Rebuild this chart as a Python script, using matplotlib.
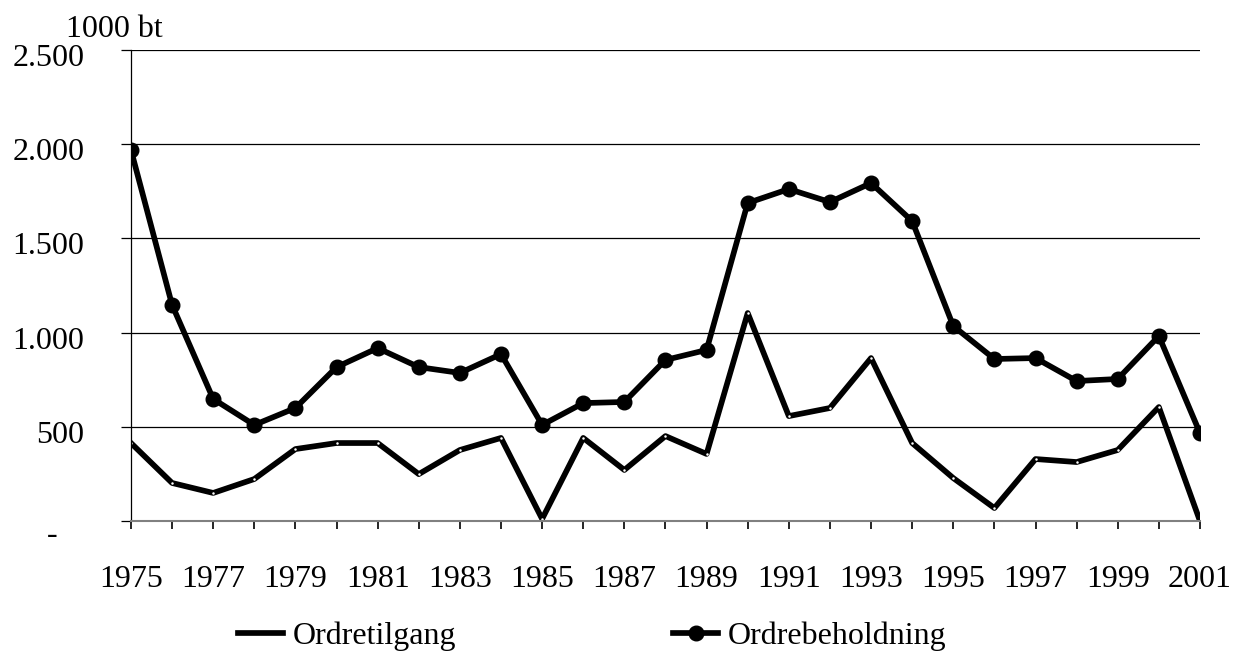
import numpy as np
import matplotlib.pyplot as plt
from matplotlib.ticker import FixedLocator, FuncFormatter
from matplotlib.transforms import ScaledTranslation

plt.rcParams['font.family'] = ['Liberation Serif', 'DejaVu Serif']

# Data (1000 bt)
years = np.arange(1975, 2002)
ordretilgang = [414, 202, 149, 223, 382, 414, 414, 249, 377, 441,
                11, 441, 271, 451, 356, 1104, 557, 600, 865, 414,
                228, 69, 329, 313, 377, 605, 0]
ordrebeholdning = [1970, 1147, 648, 510, 600, 817, 918, 817, 786, 886,
                   510, 626, 632, 855, 908, 1688, 1762, 1693, 1794, 1592,
                   1035, 860, 865, 743, 754, 982, 467]
y_ticks = [0, 500, 1000, 1500, 2000, 2500]
y_labels = ['-', '500', '1.000', '1.500', '2.000', '2.500']

fs = 23

fig = plt.figure(figsize=(12.39, 6.53), dpi=100)
ax = fig.add_axes([0.1057, 0.2021, 0.8628, 0.7213])

ax.plot(years, ordretilgang, color='black', lw=4.1, label='Ordretilgang')
# tiny white dots on the data points
ax.plot(years, ordretilgang, ls='none', marker='o', ms=1.8, mfc='white', mew=0)
ax.plot(years, ordrebeholdning, color='black', lw=4.1, marker='o', ms=10.5,
        label='Ordrebeholdning')

ax.set_xlim(1975, 2001)
ax.set_ylim(0, 2500)

# gridlines
for v in y_ticks[1:]:
    ax.axhline(v, color='black', lw=0.9, zorder=0)

for s in ['top', 'right']:
    ax.spines[s].set_visible(False)
ax.spines['left'].set_linewidth(0.9)
ax.spines['bottom'].set_color('#808080')
ax.spines['bottom'].set_linewidth(1.5)

ax.yaxis.set_major_locator(FixedLocator(y_ticks))
ax.set_yticklabels(y_labels)
ax.tick_params(axis='y', length=7.5, width=0.9, pad=26, labelsize=fs)
ax.xaxis.set_major_locator(FixedLocator(years))
ax.xaxis.set_major_formatter(FuncFormatter(lambda v, p: str(int(v)) if int(v) % 2 == 1 else ''))
ax.tick_params(axis='x', length=6, width=1.2, pad=26, labelsize=fs)

# y labels sit a little below their gridlines; the "-" sits further left
for i, lbl in enumerate(ax.get_yticklabels()):
    dx, dy = (-0.27, -0.11) if i == 0 else (0, -0.05)
    lbl.set_transform(lbl.get_transform() + ScaledTranslation(dx, dy, fig.dpi_scale_trans))

fig.text(0.053, 0.955, '1000 bt', fontsize=fs, va='center', ha='left')

fig.legend(loc='center', bbox_to_anchor=(0.478, 0.026), ncol=2, frameon=False,
           fontsize=fs, handlelength=1.4, handletextpad=0.3, columnspacing=6.8,
           borderpad=0, borderaxespad=0)

fig.savefig('out.png', dpi=100)
